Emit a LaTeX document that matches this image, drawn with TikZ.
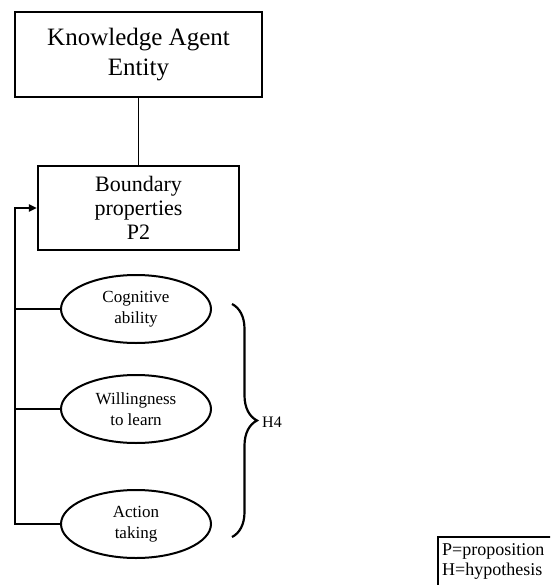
\documentclass[tikz,border=0pt]{standalone}
\usepackage{fontspec}
\setmainfont{Liberation Serif}
\usetikzlibrary{shapes.geometric,decorations.pathreplacing,arrows.meta}

\tikzset{
  box/.style={draw, line width=2.2pt, rectangle, align=center, inner sep=0pt},
  oval/.style={draw, line width=2pt, ellipse, align=center, inner sep=0pt,
    minimum width=150pt, minimum height=68pt, font=\fontsize{17}{21}\selectfont},
  feed/.style={line width=2.2pt},
  link/.style={line width=1.3pt},
  curly/.style={line width=2.2pt, decorate, decoration={brace, amplitude=25pt}},
  legendtext/.style={anchor=north west, align=left, inner xsep=4pt, inner ysep=6pt,
    font=\fontsize{18}{20.5}\selectfont},
  legendframe/.style={line width=2pt},
}

\begin{document}
\begin{tikzpicture}[x=1pt, y=-1pt]
  \clip (0,0) rectangle (550,585);
  \useasboundingbox (0,0) rectangle (550,585);

  % main blocks
  \node[box, minimum width=247pt, minimum height=85pt,
        font=\fontsize{25}{30}\selectfont] (kae) at (138.5,54.5)
        {Knowledge Agent\\Entity};
  \node[box, minimum width=201pt, minimum height=84pt,
        font=\fontsize{22}{24}\selectfont] (bp) at (138.5,208)
        {Boundary\\properties\\P2};
  \draw[link] (kae.south) -- (bp.north);

  % antecedents
  \node[oval] (cog)  at (136,309) {Cognitive\\ability};
  \node[oval] (will) at (136,409) {Willingness\\to learn};
  \node[oval] (act)  at (136,524) {Action\\taking};

  % feedback rail into the boundary box
  \coordinate (rail) at (15,0);
  \draw[feed, -{Triangle[length=8pt, width=7pt]}]
    (act.west) -- (act.west -| rail) |- (bp.west);
  \draw[feed] (cog.west) -- (cog.west -| rail);
  \draw[feed] (will.west) -- (will.west -| rail);

  % hypothesis brace
  \coordinate (bt) at (232,304);
  \coordinate (bb) at (232,537);
  \draw[curly] (bt) -- (bb);
  \node[anchor=west, font=\fontsize{16}{19}\selectfont, inner sep=0pt] (h4) at (262,422) {H4};

  % legend (frame runs past the lower and right edges)
  \node[legendtext] (leg) at (438,537) {P=proposition\\H=hypothesis};
  \draw[legendframe] (leg.north west) rectangle ++(150,70);
\end{tikzpicture}
\end{document}
